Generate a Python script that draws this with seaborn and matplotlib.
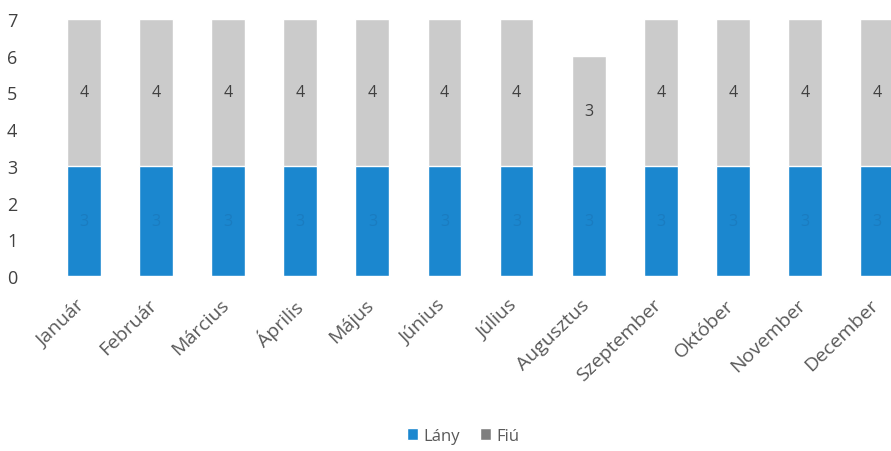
import matplotlib
matplotlib.use("Agg")
import matplotlib.pyplot as plt
import matplotlib.transforms as mtransforms
import seaborn as sns
import pandas as pd
from matplotlib.patches import Patch

months = ["Január", "Február", "Március", "Április", "Május", "Június",
          "Július", "Augusztus", "Szeptember", "Október", "November", "December"]
lany = [3, 3, 3, 3, 3, 3, 3, 3, 3, 3, 3, 3]
fiu = [4, 4, 4, 4, 4, 4, 4, 3, 4, 4, 4, 4]
yticks = [0, 1, 2, 3, 4, 5, 6, 7]

BLUE = "#1b87cf"
GRAY = "#cbcbcb"

sns.set_style("white")
plt.rcParams['font.family'] = ['Open Sans', 'DejaVu Sans']

df = pd.DataFrame({"month": months, "lany": lany, "fiu": fiu})
df["total"] = df["lany"] + df["fiu"]

fig = plt.figure(figsize=(8.91, 4.52), dpi=100)
ax = fig.add_axes([48/891, (452-277)/452, 865/891, 257/452])

sns.barplot(data=df, x="month", y="total", color=GRAY, width=0.47,
            saturation=1, ax=ax, order=months)
sns.barplot(data=df, x="month", y="lany", color=BLUE, width=0.47,
            saturation=1, ax=ax, order=months)

for i, (l, f) in enumerate(zip(lany, fiu)):
    ax.text(i, l + f / 2, str(f), ha="center", va="center", fontsize=11.5,
            color="#404040")
    ax.text(i, l / 2, str(l), ha="center", va="center", fontsize=11.5,
            color="#1a7cc0")

ax.set_xlim(-0.5, 11.5)
ax.set_ylim(0, 7)
ax.set_yticks(yticks)
ax.set_yticklabels([str(t) for t in yticks], fontsize=13, color="#404040")
ax.tick_params(axis="y", length=0, pad=22)
ax.tick_params(axis="x", length=0, pad=14)
ax.set_xticks(range(len(months)))
ax.set_xticklabels(months, rotation=44, ha="right", rotation_mode="anchor",
                   fontsize=14, color="#595959")
offset = mtransforms.ScaledTranslation(-8/100, 0, fig.dpi_scale_trans)
for lab in ax.get_xticklabels():
    lab.set_transform(lab.get_transform() + offset)
ax.set_xlabel("")
ax.set_ylabel("")
for s in ax.spines.values():
    s.set_visible(False)

handles = [Patch(facecolor=BLUE, label="Lány"), Patch(facecolor="#7f7f7f", label="Fiú")]
fig.legend(handles=handles, loc="center", bbox_to_anchor=(463/891, 1 - 437/452),
           ncol=2, frameon=False, fontsize=12, handlelength=0.7,
           handleheight=0.7, handletextpad=0.3, columnspacing=1.2,
           labelcolor="#595959")

fig.savefig("out.png", dpi=100)
